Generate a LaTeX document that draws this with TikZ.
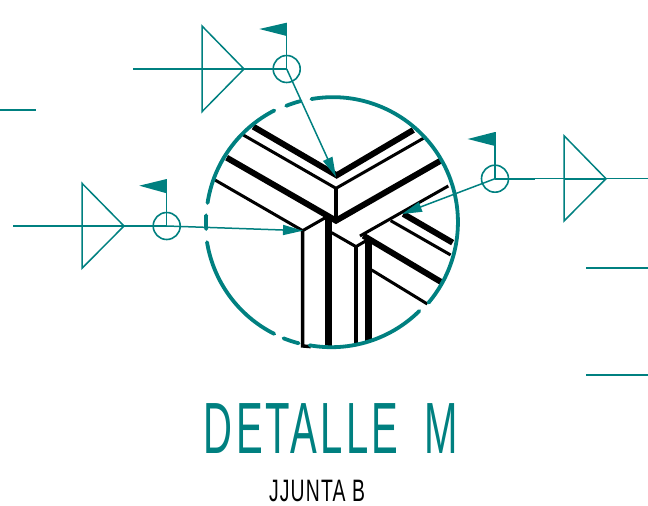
\documentclass[tikz,border=0pt]{standalone}
\usepackage{fontspec}
\usepackage{graphicx}
\setmainfont{Liberation Sans}
\usetikzlibrary{arrows.meta}
\definecolor{weld}{HTML}{008080}
\tikzset{
  thin teal/.style={draw=weld,line width=1.5pt},
  ring/.style={circle,draw=weld,line width=1.6pt,minimum size=27pt,inner sep=0pt,outer sep=0pt},
  flagshape/.style={fill=weld,draw=none},
  leader/.style={draw=weld,line width=1.5pt,-{Triangle[length=20pt,width=10pt,fill=weld]}},
  outline/.style={draw=weld,line width=3.8pt,line cap=round},
  heavy/.style={draw=black,line width=6pt},
  mid/.style={draw=black,line width=3pt},
  post/.style={draw=black,line width=3.4pt},
  heavypost/.style={draw=black,line width=6.4pt},
  title/.style={text=weld,inner sep=0pt,font=\fontsize{72.6}{80}\selectfont\addfontfeatures{LetterSpace=8}},
  subtitle/.style={text=black,inner sep=0pt,font=\fontsize{31}{36}\selectfont\addfontfeatures{LetterSpace=6}}
}
\begin{document}
\begin{tikzpicture}[x=1pt,y=-1pt]
\useasboundingbox (0,0) rectangle (648,506);
% black profile lines (coordinates of the 3x crop)
\begin{scope}[shift={(200,90)},x=0.3333pt,y=-0.3333pt]
\draw[heavy,line join=miter] (160,110) -- (410,256) -- (640,120);
\draw[mid] (130,135) -- (408,295) -- (670,145);
\draw[post] (408,295) -- (408,385);
\draw[heavy] (80,203) -- (408,392) -- (722,212);
\draw[mid] (45,270) -- (308,422) -- (378,382);
\draw[post] (308,422) -- (308,768) -- (332,770);
\draw[heavypost] (386,378) -- (386,770);
\draw[mid] (395,428) -- (468,470) -- (497,453);
\draw[post] (468,470) -- (468,765);
\draw[heavypost] (506,442) -- (506,752);
\draw[mid] (745,288) -- (480,438);
\draw[heavy] (490,437) -- (725,577);
\draw[mid] (515,540) -- (682,642);
\draw[mid] (572,392) -- (752,495);
\draw[heavy] (610,372) -- (758,458);
\end{scope}
% dashed detail circle
\node[circle,minimum size=250pt,inner sep=0pt,outer sep=0pt] (detail) at (331,222.5) {};
\foreach \a/\b in {99.9/-40.1,-45.2/-100,255.6/248.3,243.3/189.2,183.3/177,171.3/117,111.7/104.8}
  \draw[outline] (detail.\a) arc[start angle=\a,end angle=\b,radius=125pt];
% extension lines
\coordinate (e1a) at (0,110); \coordinate (e1b) at (36,110);
\coordinate (e2a) at (586,268); \coordinate (e2b) at (648,268);
\coordinate (e3a) at (586,375); \coordinate (e3b) at (648,375);
\draw[thin teal] (e1a) -- (e1b);
\draw[thin teal] (e2a) -- (e2b);
\draw[thin teal] (e3a) -- (e3b);
% top weld symbol
\node[ring] (c1) at (286.7,69) {};
\coordinate (t1a) at (133,69); \coordinate (t1b) at (202,69); \coordinate (t1u) at (202,26); \coordinate (t1d) at (202,111.7); \coordinate (t1p) at (244,69);
\draw[thin teal] (t1a) -- (t1b);
\draw[draw=weld,line width=1.9pt] (t1b) -- (c1.center);
\draw[thin teal,line join=miter] (t1u) -- (t1p) -- (t1d) -- cycle;
\coordinate (f1t) at (286.7,22.7); \coordinate (f1l) at (259.3,29); \coordinate (f1b) at (286.7,36);
\fill[flagshape] (f1t) -- (f1l) -- (f1b) -- cycle;
\draw[thin teal] (f1t) -- (c1.center);
\coordinate (a1) at (336,177);
\draw[leader] (c1.center) -- (a1);
% left weld symbol
\node[ring] (c2) at (166.7,226) {};
\coordinate (t2a) at (13,226); \coordinate (t2b) at (82,226); \coordinate (t2u) at (82,183.3); \coordinate (t2d) at (82,268.3); \coordinate (t2p) at (124,226);
\draw[thin teal] (t2a) -- (t2b);
\draw[draw=weld,line width=1.9pt] (t2b) -- (c2.center);
\draw[thin teal,line join=miter] (t2u) -- (t2p) -- (t2d) -- cycle;
\coordinate (f2t) at (166.7,179); \coordinate (f2l) at (139.3,185.7); \coordinate (f2b) at (166.7,193.3);
\fill[flagshape] (f2t) -- (f2l) -- (f2b) -- cycle;
\draw[thin teal] (f2t) -- (c2.center);
\coordinate (a2) at (303,230.7);
\draw[leader] (c2.center) -- (a2);
% right weld symbol
\node[ring] (c3) at (495,178.7) {};
\coordinate (t3a) at (648,178.7); \coordinate (t3b) at (564,178.7); \coordinate (t3u) at (564,135.7); \coordinate (t3d) at (564,221); \coordinate (t3p) at (606,178.7); \coordinate (t3m) at (535,178.7);
\draw[thin teal] (t3a) -- (c3.center);
\draw[draw=weld,line width=1.9pt] (c3.center) -- (t3m);
\draw[draw=weld,line width=1.9pt] (t3b) -- (t3p);
\draw[thin teal,line join=miter] (t3u) -- (t3p) -- (t3d) -- cycle;
\coordinate (f3t) at (495,132); \coordinate (f3l) at (467.7,139); \coordinate (f3b) at (495,146);
\fill[flagshape] (f3t) -- (f3l) -- (f3b) -- cycle;
\draw[thin teal] (f3t) -- (c3.center);
\coordinate (a3) at (402,214);
\draw[leader] (c3.center) -- (a3);
% texts
\node[title] (ttl) at (331,429) {\scalebox{.552}[1]{DETALLE\hspace{.3em} M}};
\node[subtitle] (sub) at (317,490.5) {\scalebox{.625}[1]{JJUNTA B}};
\end{tikzpicture}
\end{document}
